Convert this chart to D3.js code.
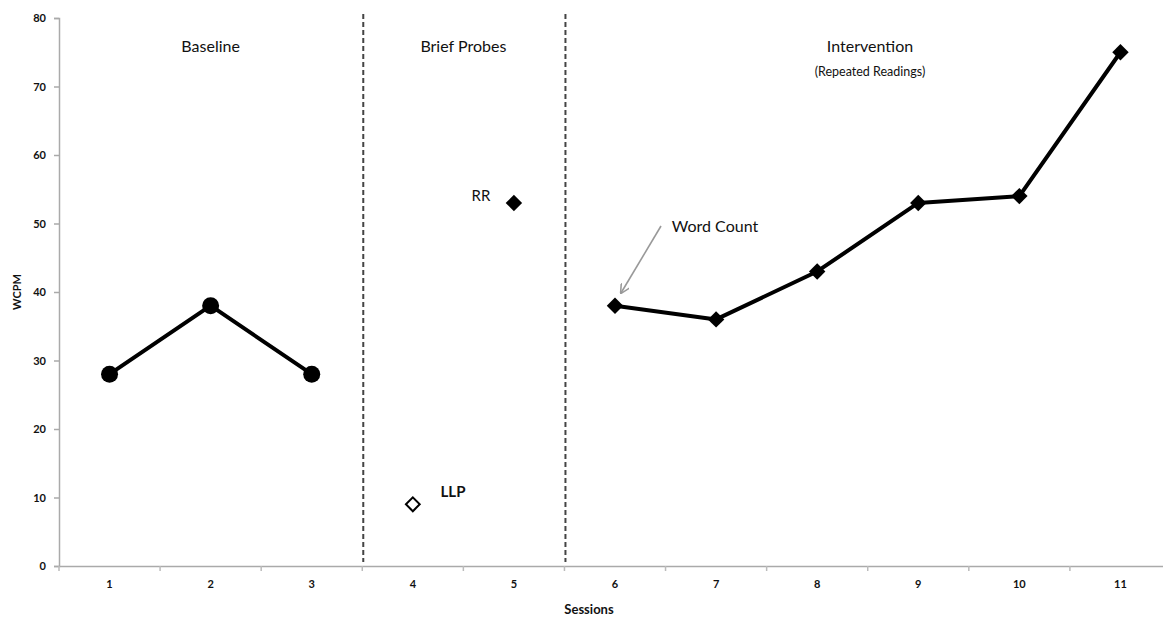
<!DOCTYPE html>
<html><head><meta charset="utf-8">
<script src="https://cdn.jsdelivr.net/npm/d3@7"></script>
<style>body{margin:0;background:#fff}svg{display:block}text{font-family:Lato,"Open Sans",sans-serif;fill:#111}</style>
</head><body><svg id="c" width="1163" height="620"></svg>
<script>
const sessions = ["1","2","3","4","5","6","7","8","9","10","11"];
const baselineSessions = ["1","2","3"];
const baselineValues = [28, 38, 28];
const llpSession = ["4"], llpValues = [9];
const rrSession = ["5"], rrValues = [53];
const interventionSessions = ["6","7","8","9","10","11"];
const interventionValues = [38, 36, 43, 53, 54, 75];
const yTicks = [0,10,20,30,40,50,60,70,80];
const phaseBreaks = ["3","5"]; // divider after these sessions

const svg = d3.select("#c");
const m = {l:59, r:1171, t:18, b:566};
const x = d3.scaleBand().domain(sessions).range([m.l, m.r]);
const y = d3.scaleLinear().domain([0,80]).range([m.b, m.t]);
const cx = s => x(s) + x.bandwidth()/2;

// y axis
const ya = svg.append("g").attr("transform",`translate(${m.l},0)`)
  .call(d3.axisLeft(y).tickValues(yTicks).tickSize(5).tickPadding(8));
ya.select(".domain").attr("stroke","#aaa").attr("stroke-width",1.5);
ya.selectAll(".tick line").attr("stroke","#aaa").attr("stroke-width",1.5);
ya.selectAll("text").style("font-size","11px").style("font-weight","bold").attr("fill","#222");

// x axis
const xa = svg.append("g").attr("transform",`translate(0,${m.b})`)
  .call(d3.axisBottom(x).tickSize(0).tickPadding(14));
xa.select(".domain").attr("stroke","#aaa").attr("stroke-width",1.5);
xa.selectAll("text").style("font-size","11px").style("font-weight","bold").attr("fill","#222");
// boundary ticks
const bounds = sessions.map(s => x(s)).concat([m.r]);
svg.append("g").selectAll("line").data(bounds).join("line")
  .attr("x1",d=>d).attr("x2",d=>d).attr("y1",m.b).attr("y2",m.b+5)
  .attr("stroke","#bbb").attr("stroke-width",1.5);

// axis titles
svg.append("text").attr("transform",`translate(21,${y(40)}) rotate(-90)`).attr("text-anchor","middle")
  .style("font-size","11px").style("font-weight","bold").text("WCPM");
svg.append("text").attr("x",589).attr("y",614).attr("text-anchor","middle")
  .style("font-size","13px").style("font-weight","bold").text("Sessions");

// phase dividers
svg.append("g").selectAll("line").data(phaseBreaks).join("line")
  .attr("x1",d=>x(d)+x.bandwidth()+1).attr("x2",d=>x(d)+x.bandwidth()+1)
  .attr("y1",14).attr("y2",m.b-4)
  .attr("stroke","#444").attr("stroke-width",2).attr("stroke-dasharray","5,3");

// phase labels
svg.append("text").attr("x",cx("2")).attr("y",52).attr("text-anchor","middle").style("font-size","16px").text("Baseline");
svg.append("text").attr("x",(cx("4")+cx("5"))/2).attr("y",52).attr("text-anchor","middle").style("font-size","16px").text("Brief Probes");
svg.append("text").attr("x",870).attr("y",52).attr("text-anchor","middle").style("font-size","16px").text("Intervention");
svg.append("text").attr("x",870).attr("y",76).attr("text-anchor","middle").style("font-size","12.5px").text("(Repeated Readings)");

const line = d3.line().x(d=>cx(d[0])).y(d=>y(d[1]));
// baseline
const bd = baselineSessions.map((s,i)=>[s,baselineValues[i]]);
svg.append("path").datum(bd).attr("d",line).attr("fill","none").attr("stroke","#000").attr("stroke-width",4).attr("stroke-linejoin","round");
svg.append("g").selectAll("circle").data(bd).join("circle")
  .attr("cx",d=>cx(d[0])).attr("cy",d=>y(d[1])).attr("r",8.5).attr("fill","#000");

// intervention
const id = interventionSessions.map((s,i)=>[s,interventionValues[i]]);
svg.append("path").datum(id).attr("d",line).attr("fill","none").attr("stroke","#000").attr("stroke-width",4).attr("stroke-linejoin","round");
const dia = d3.symbol().type(d3.symbolSquare).size(135);
svg.append("g").selectAll("path").data(id).join("path")
  .attr("d",dia).attr("transform",d=>`translate(${cx(d[0])},${y(d[1])}) rotate(45)`).attr("fill","#000");

// probes
const rd = rrSession.map((s,i)=>[s,rrValues[i]]);
svg.append("g").selectAll("path").data(rd).join("path")
  .attr("d",dia).attr("transform",d=>`translate(${cx(d[0])},${y(d[1])}) rotate(45)`).attr("fill","#000");
const ld = llpSession.map((s,i)=>[s,llpValues[i]]);
svg.append("g").selectAll("path").data(ld).join("path")
  .attr("d",d3.symbol().type(d3.symbolSquare).size(95)).attr("transform",d=>`translate(${cx(d[0])},${y(d[1])}) rotate(45)`)
  .attr("fill","#fff").attr("stroke","#000").attr("stroke-width",2);

svg.append("text").attr("x",481).attr("y",201).attr("text-anchor","middle").style("font-size","15px").text("RR");
svg.append("text").attr("x",453).attr("y",497).attr("text-anchor","middle").style("font-size","15px").style("font-weight","bold").attr("fill","#223").text("LLP");

// word count annotation
svg.append("text").attr("x",715).attr("y",232).attr("text-anchor","middle").style("font-size","16px").text("Word Count");
svg.append("defs").append("marker").attr("id","ah").attr("viewBox","0 0 10 10").attr("refX",9).attr("refY",5)
  .attr("markerWidth",6).attr("markerHeight",6).attr("orient","auto")
  .append("path").attr("d","M0,0 L10,5 L0,10").attr("fill","none").attr("stroke","#999").attr("stroke-width",1.6);
svg.append("line").attr("x1",661).attr("y1",226).attr("x2",621).attr("y2",293)
  .attr("stroke","#999").attr("stroke-width",1.6).attr("marker-end","url(#ah)");
</script></body></html>
